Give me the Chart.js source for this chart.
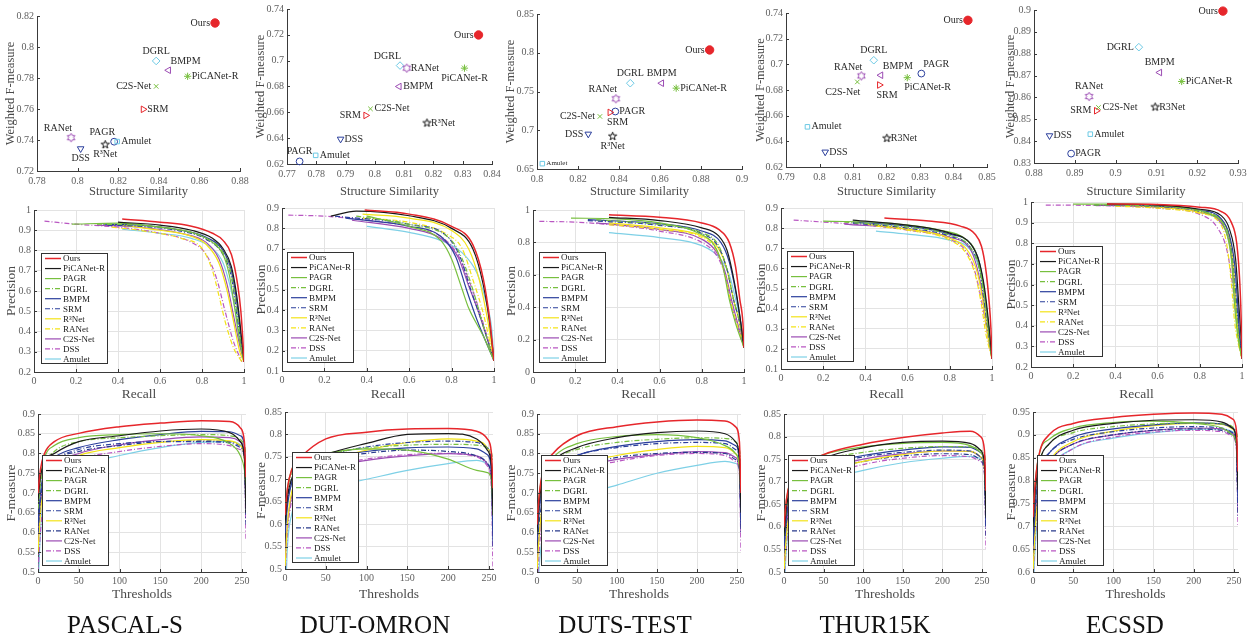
<!DOCTYPE html>
<html>
<head>
<meta charset="utf-8">
<script src="https://cdn.jsdelivr.net/npm/chart.js@4.4.0/dist/chart.umd.min.js"></script>
<style>
html, body { margin: 0; padding: 0; background: #fff; }
body { width: 1250px; height: 642px; position: relative; overflow: hidden; font-family: "Liberation Serif", serif; }
.cell { position: absolute; }
.caption { position: absolute; top: 611px; width: 250px; text-align: center; font-size: 25px; color: #111; }
</style>
</head>
<body>
<script>
// ---- data ----
const methods = ['Ours', 'PiCANet-R', 'PAGR', 'DGRL', 'BMPM', 'SRM', 'R³Net', 'RANet', 'C2S-Net', 'DSS', 'Amulet'];
const methodsPlain = ['Ours', 'PiCANet-R', 'PAGR', 'DGRL', 'BMPM', 'SRM', 'R3Net', 'RANet', 'C2S-Net', 'DSS', 'Amulet'];
const datasetNames = ['PASCAL-S', 'DUT-OMRON', 'DUTS-TEST', 'THUR15K', 'ECSSD'];

// structure similarity / weighted F-measure, in methods order
const ssPascal = [0.8677, 0.8542, 0.818, 0.8387, 0.8448, 0.8323, 0.8136, 0.7968, 0.8387, 0.8015, 0.8195];
const wfPascal = [0.8155, 0.7811, 0.7389, 0.791, 0.785, 0.7598, 0.737, 0.7415, 0.7746, 0.7344, 0.739];
const ssDutOmron = [0.8354, 0.8306, 0.7743, 0.8086, 0.8083, 0.7969, 0.8178, 0.8109, 0.7985, 0.7883, 0.7798];
const wfDutOmron = [0.7199, 0.6942, 0.622, 0.6962, 0.68, 0.6576, 0.6517, 0.6942, 0.6627, 0.6393, 0.6267];
const ssDuts = [0.8842, 0.8679, 0.8382, 0.8455, 0.8608, 0.8356, 0.8369, 0.8385, 0.8307, 0.825, 0.8026];
const wfDuts = [0.8036, 0.7543, 0.7242, 0.7607, 0.7607, 0.723, 0.6921, 0.7406, 0.7178, 0.6951, 0.6569];
const ssThur = [0.8443, 0.8262, 0.8304, 0.8162, 0.8183, 0.8179, 0.8201, 0.8125, 0.8113, 0.8017, 0.7964];
const wfThur = [0.7343, 0.6896, 0.6928, 0.7032, 0.6915, 0.6839, 0.6424, 0.691, 0.6863, 0.6317, 0.6513];
const ssEcssd = [0.9263, 0.9162, 0.8891, 0.9057, 0.9108, 0.8953, 0.9097, 0.8935, 0.8958, 0.8838, 0.8938];
const wfEcssd = [0.8995, 0.8673, 0.8343, 0.883, 0.8714, 0.8539, 0.8556, 0.8604, 0.8554, 0.8425, 0.8432];

// scatter axis ranges [xmin, xmax, xstep, ymin, ymax, ystep]
const scatterAxes = [
    [0.78, 0.88, 0.02, 0.72, 0.82, 0.02],
    [0.77, 0.84, 0.01, 0.62, 0.74, 0.02],
    [0.8, 0.9, 0.02, 0.65, 0.85, 0.05],
    [0.79, 0.85, 0.01, 0.62, 0.74, 0.02],
    [0.88, 0.93, 0.01, 0.83, 0.9, 0.01]
];

// precision-recall curves: [recall, precision] per method
const prPascal = [
    [[0.42,0.955],[0.6,0.94],[0.75,0.92],[0.85,0.885],[0.9,0.85],[0.94,0.78],[0.97,0.63],[0.985,0.5],[0.995,0.35],[1,0.25]],
    [[0.4,0.94],[0.6,0.925],[0.75,0.9],[0.85,0.86],[0.9,0.81],[0.94,0.72],[0.965,0.58],[0.98,0.45],[0.995,0.3],[1,0.25]],
    [[0.18,0.93],[0.4,0.935],[0.6,0.915],[0.75,0.89],[0.85,0.84],[0.9,0.78],[0.93,0.68],[0.955,0.52],[0.98,0.35],[1,0.25]],
    [[0.3,0.93],[0.5,0.925],[0.7,0.9],[0.82,0.86],[0.9,0.79],[0.94,0.68],[0.96,0.55],[0.98,0.4],[1,0.25]],
    [[0.33,0.93],[0.5,0.925],[0.7,0.9],[0.82,0.865],[0.9,0.8],[0.94,0.7],[0.965,0.55],[0.985,0.38],[1,0.25]],
    [[0.35,0.925],[0.5,0.92],[0.7,0.895],[0.82,0.855],[0.9,0.78],[0.94,0.67],[0.96,0.53],[0.98,0.38],[1,0.25]],
    [[0.42,0.925],[0.6,0.9],[0.75,0.87],[0.82,0.83],[0.88,0.74],[0.92,0.6],[0.95,0.45],[0.98,0.3],[1,0.25]],
    [[0.37,0.915],[0.5,0.9],[0.7,0.86],[0.8,0.81],[0.85,0.7],[0.88,0.58],[0.91,0.45],[0.95,0.32],[0.99,0.25]],
    [[0.3,0.925],[0.5,0.915],[0.7,0.885],[0.82,0.84],[0.88,0.76],[0.92,0.63],[0.95,0.48],[0.98,0.33],[1,0.25]],
    [[0.05,0.945],[0.2,0.93],[0.4,0.915],[0.6,0.885],[0.75,0.84],[0.82,0.78],[0.87,0.66],[0.91,0.5],[0.95,0.35],[0.99,0.25]],
    [[0.42,0.905],[0.6,0.885],[0.75,0.86],[0.85,0.81],[0.9,0.74],[0.93,0.64],[0.96,0.5],[0.98,0.36],[1,0.25]]
];
const prDutOmron = [
    [[0.39,0.89],[0.6,0.87],[0.8,0.81],[0.9,0.72],[0.95,0.55],[0.98,0.35],[1,0.15]],
    [[0.23,0.86],[0.35,0.885],[0.6,0.862],[0.8,0.8],[0.9,0.7],[0.95,0.52],[0.98,0.33],[1,0.15]],
    [[0.4,0.86],[0.6,0.81],[0.75,0.74],[0.8,0.65],[0.85,0.5],[0.88,0.41],[0.95,0.27],[1,0.15]],
    [[0.35,0.86],[0.6,0.82],[0.8,0.74],[0.85,0.65],[0.9,0.5],[0.95,0.32],[1,0.15]],
    [[0.3,0.85],[0.6,0.81],[0.75,0.76],[0.82,0.66],[0.87,0.5],[0.92,0.35],[1,0.15]],
    [[0.25,0.86],[0.6,0.82],[0.78,0.76],[0.84,0.66],[0.89,0.5],[0.94,0.35],[1,0.15]],
    [[0.38,0.87],[0.6,0.85],[0.8,0.79],[0.88,0.7],[0.93,0.55],[0.97,0.35],[1,0.15]],
    [[0.38,0.85],[0.6,0.83],[0.78,0.77],[0.85,0.7],[0.9,0.55],[0.95,0.38],[1,0.15]],
    [[0.33,0.84],[0.6,0.8],[0.75,0.75],[0.83,0.66],[0.88,0.52],[0.93,0.38],[1,0.15]],
    [[0.03,0.865],[0.2,0.86],[0.4,0.84],[0.6,0.81],[0.75,0.76],[0.83,0.67],[0.88,0.55],[0.93,0.4],[1,0.15]],
    [[0.4,0.81],[0.6,0.78],[0.75,0.74],[0.85,0.68],[0.92,0.58],[0.96,0.45],[0.99,0.3],[1,0.15]]
];
const prDuts = [
    [[0.36,0.97],[0.6,0.955],[0.8,0.92],[0.88,0.88],[0.93,0.8],[0.96,0.65],[0.98,0.45],[0.995,0.3],[1,0.15]],
    [[0.36,0.955],[0.6,0.935],[0.8,0.89],[0.88,0.84],[0.92,0.75],[0.955,0.55],[0.98,0.35],[1,0.15]],
    [[0.18,0.95],[0.4,0.945],[0.6,0.92],[0.78,0.86],[0.86,0.78],[0.9,0.65],[0.93,0.45],[0.96,0.3],[1,0.15]],
    [[0.3,0.94],[0.6,0.91],[0.8,0.86],[0.88,0.78],[0.92,0.63],[0.95,0.45],[0.98,0.3],[1,0.15]],
    [[0.26,0.94],[0.6,0.915],[0.8,0.87],[0.89,0.8],[0.93,0.68],[0.96,0.5],[0.985,0.3],[1,0.15]],
    [[0.26,0.935],[0.6,0.905],[0.8,0.855],[0.88,0.77],[0.92,0.63],[0.95,0.45],[0.98,0.3],[1,0.15]],
    [[0.36,0.92],[0.6,0.89],[0.8,0.84],[0.88,0.76],[0.92,0.63],[0.95,0.45],[0.98,0.3],[1,0.15]],
    [[0.36,0.91],[0.6,0.88],[0.8,0.83],[0.87,0.75],[0.91,0.6],[0.94,0.42],[0.97,0.28],[1,0.15]],
    [[0.3,0.92],[0.6,0.88],[0.8,0.82],[0.87,0.74],[0.91,0.62],[0.94,0.45],[0.97,0.3],[1,0.15]],
    [[0.03,0.93],[0.2,0.925],[0.4,0.905],[0.6,0.87],[0.8,0.8],[0.87,0.72],[0.91,0.6],[0.94,0.42],[0.97,0.28],[1,0.15]],
    [[0.36,0.86],[0.6,0.83],[0.8,0.78],[0.88,0.71],[0.93,0.6],[0.96,0.45],[0.985,0.3],[1,0.15]]
];
const prThur = [
    [[0.49,0.85],[0.7,0.835],[0.85,0.81],[0.92,0.77],[0.95,0.71],[0.97,0.6],[0.985,0.45],[0.995,0.3],[1,0.15]],
    [[0.34,0.84],[0.6,0.815],[0.8,0.775],[0.9,0.72],[0.94,0.63],[0.965,0.5],[0.985,0.32],[1,0.15]],
    [[0.2,0.835],[0.5,0.825],[0.75,0.79],[0.88,0.74],[0.93,0.66],[0.96,0.5],[0.98,0.32],[1,0.15]],
    [[0.3,0.83],[0.6,0.805],[0.8,0.765],[0.9,0.7],[0.94,0.6],[0.965,0.45],[0.985,0.3],[1,0.15]],
    [[0.34,0.83],[0.6,0.81],[0.8,0.77],[0.9,0.72],[0.94,0.63],[0.965,0.48],[0.985,0.3],[1,0.15]],
    [[0.34,0.825],[0.6,0.8],[0.8,0.76],[0.9,0.7],[0.94,0.6],[0.96,0.46],[0.98,0.3],[1,0.15]],
    [[0.4,0.82],[0.6,0.795],[0.8,0.75],[0.89,0.68],[0.93,0.58],[0.955,0.45],[0.975,0.3],[1,0.15]],
    [[0.45,0.81],[0.6,0.79],[0.8,0.74],[0.88,0.67],[0.92,0.57],[0.95,0.42],[0.97,0.28],[1,0.15]],
    [[0.3,0.82],[0.6,0.795],[0.8,0.755],[0.9,0.69],[0.93,0.6],[0.955,0.47],[0.975,0.3],[1,0.15]],
    [[0.06,0.84],[0.2,0.83],[0.4,0.815],[0.6,0.79],[0.8,0.745],[0.88,0.68],[0.92,0.58],[0.95,0.44],[0.975,0.3],[1,0.15]],
    [[0.45,0.785],[0.6,0.77],[0.8,0.74],[0.9,0.69],[0.94,0.6],[0.965,0.47],[0.985,0.3],[1,0.15]]
];
const prEcssd = [
    [[0.36,0.99],[0.6,0.988],[0.8,0.975],[0.9,0.955],[0.95,0.9],[0.975,0.8],[0.99,0.6],[0.997,0.4],[1,0.24]],
    [[0.36,0.99],[0.6,0.985],[0.8,0.965],[0.9,0.935],[0.94,0.87],[0.97,0.72],[0.985,0.5],[0.995,0.35],[1,0.24]],
    [[0.2,0.99],[0.5,0.99],[0.7,0.975],[0.85,0.94],[0.92,0.87],[0.95,0.72],[0.965,0.5],[0.98,0.35],[1,0.24]],
    [[0.3,0.985],[0.6,0.98],[0.8,0.955],[0.9,0.91],[0.94,0.82],[0.96,0.65],[0.975,0.45],[0.99,0.3],[1,0.24]],
    [[0.36,0.99],[0.6,0.98],[0.8,0.96],[0.9,0.92],[0.94,0.84],[0.965,0.7],[0.98,0.5],[0.99,0.33],[1,0.24]],
    [[0.3,0.985],[0.6,0.978],[0.8,0.955],[0.9,0.91],[0.94,0.83],[0.96,0.68],[0.975,0.5],[0.99,0.32],[1,0.24]],
    [[0.45,0.985],[0.6,0.975],[0.8,0.95],[0.9,0.91],[0.94,0.83],[0.96,0.68],[0.97,0.5],[0.985,0.33],[1,0.24]],
    [[0.4,0.98],[0.6,0.97],[0.8,0.945],[0.9,0.89],[0.93,0.78],[0.95,0.6],[0.965,0.42],[0.985,0.3],[1,0.24]],
    [[0.3,0.985],[0.6,0.975],[0.8,0.95],[0.9,0.9],[0.94,0.8],[0.96,0.64],[0.975,0.45],[0.99,0.3],[1,0.24]],
    [[0.07,0.985],[0.3,0.983],[0.6,0.97],[0.8,0.94],[0.88,0.88],[0.93,0.76],[0.955,0.6],[0.975,0.42],[0.99,0.3],[1,0.24]],
    [[0.36,0.985],[0.6,0.975],[0.8,0.95],[0.9,0.9],[0.94,0.81],[0.96,0.66],[0.975,0.48],[0.99,0.32],[1,0.24]]
];
// precision y ranges [min, max, step]
const prYAxes = [[0.2, 1, 0.1], [0.1, 0.9, 0.1], [0, 1, 0.2], [0.1, 0.9, 0.1], [0.2, 1, 0.1]];

// F-measure against threshold
const fThresholds = [0, 3, 8, 20, 50, 100, 150, 200, 235, 248, 253, 255];
const fPascal = [
    [0.70,0.76,0.80,0.83,0.851,0.868,0.877,0.883,0.881,0.865,0.83,0.74],
    [0.68,0.74,0.78,0.80,0.83,0.845,0.857,0.862,0.853,0.83,0.79,0.65],
    [0.68,0.74,0.79,0.82,0.84,0.848,0.85,0.845,0.825,0.795,0.76,0.72],
    [0.66,0.72,0.77,0.805,0.83,0.84,0.845,0.848,0.845,0.835,0.82,0.80],
    [0.62,0.70,0.76,0.79,0.815,0.835,0.848,0.856,0.855,0.845,0.82,0.68],
    [0.60,0.68,0.74,0.78,0.81,0.825,0.83,0.83,0.827,0.815,0.79,0.66],
    [0.55,0.65,0.72,0.76,0.795,0.815,0.828,0.835,0.832,0.82,0.79,0.70],
    [0.60,0.68,0.74,0.78,0.805,0.82,0.83,0.832,0.83,0.82,0.79,0.62],
    [0.58,0.67,0.73,0.77,0.80,0.822,0.835,0.842,0.84,0.83,0.80,0.70],
    [0.50,0.60,0.70,0.75,0.785,0.805,0.818,0.825,0.82,0.81,0.79,0.58],
    [0.45,0.60,0.70,0.74,0.77,0.795,0.815,0.828,0.83,0.822,0.80,0.75]
];
const fDutOmron = [
    [0.62,0.68,0.72,0.75,0.79,0.805,0.812,0.813,0.807,0.79,0.76,0.68],
    [0.60,0.66,0.70,0.73,0.755,0.78,0.80,0.802,0.79,0.765,0.73,0.62],
    [0.62,0.68,0.72,0.745,0.758,0.768,0.765,0.745,0.72,0.715,0.70,0.62],
    [0.60,0.67,0.71,0.735,0.755,0.77,0.776,0.778,0.776,0.77,0.76,0.74],
    [0.58,0.64,0.69,0.72,0.745,0.762,0.77,0.772,0.768,0.755,0.72,0.55],
    [0.60,0.66,0.70,0.73,0.752,0.772,0.782,0.785,0.782,0.77,0.74,0.62],
    [0.50,0.60,0.67,0.71,0.74,0.765,0.782,0.79,0.785,0.77,0.74,0.68],
    [0.58,0.65,0.69,0.72,0.745,0.758,0.765,0.762,0.752,0.735,0.70,0.60],
    [0.52,0.60,0.66,0.70,0.725,0.742,0.752,0.757,0.752,0.735,0.70,0.58],
    [0.48,0.58,0.65,0.69,0.725,0.745,0.755,0.758,0.75,0.73,0.68,0.50],
    [0.40,0.55,0.62,0.66,0.68,0.70,0.72,0.735,0.742,0.735,0.72,0.66]
];
const fDuts = [
    [0.62,0.70,0.76,0.80,0.845,0.868,0.88,0.885,0.882,0.868,0.83,0.70],
    [0.60,0.68,0.74,0.78,0.815,0.84,0.853,0.857,0.85,0.83,0.79,0.65],
    [0.62,0.70,0.75,0.79,0.825,0.843,0.848,0.84,0.82,0.80,0.77,0.70],
    [0.60,0.68,0.74,0.78,0.81,0.828,0.836,0.84,0.838,0.83,0.81,0.78],
    [0.58,0.66,0.72,0.76,0.795,0.818,0.83,0.835,0.832,0.82,0.79,0.62],
    [0.58,0.66,0.72,0.76,0.795,0.815,0.825,0.828,0.825,0.81,0.78,0.62],
    [0.50,0.60,0.68,0.73,0.77,0.795,0.81,0.818,0.815,0.80,0.77,0.66],
    [0.55,0.63,0.69,0.73,0.765,0.79,0.80,0.803,0.80,0.785,0.76,0.60],
    [0.52,0.60,0.67,0.72,0.76,0.785,0.797,0.805,0.802,0.79,0.76,0.60],
    [0.45,0.56,0.65,0.71,0.755,0.78,0.795,0.80,0.795,0.78,0.75,0.55],
    [0.40,0.52,0.60,0.65,0.69,0.72,0.75,0.77,0.78,0.775,0.76,0.70]
];
const fThur = [
    [0.60,0.66,0.70,0.73,0.76,0.783,0.798,0.808,0.812,0.80,0.77,0.68],
    [0.58,0.64,0.69,0.72,0.752,0.775,0.787,0.79,0.785,0.77,0.74,0.62],
    [0.60,0.66,0.70,0.73,0.76,0.777,0.785,0.787,0.78,0.765,0.74,0.66],
    [0.58,0.64,0.69,0.72,0.748,0.765,0.774,0.778,0.777,0.77,0.76,0.74],
    [0.56,0.62,0.67,0.70,0.735,0.758,0.77,0.777,0.776,0.765,0.74,0.60],
    [0.56,0.62,0.67,0.70,0.733,0.755,0.765,0.77,0.768,0.755,0.73,0.60],
    [0.50,0.58,0.64,0.68,0.72,0.745,0.76,0.768,0.767,0.755,0.73,0.64],
    [0.52,0.60,0.65,0.69,0.722,0.745,0.757,0.762,0.76,0.748,0.72,0.58],
    [0.52,0.60,0.65,0.69,0.725,0.75,0.762,0.768,0.767,0.755,0.73,0.60],
    [0.48,0.56,0.63,0.67,0.71,0.738,0.752,0.758,0.755,0.745,0.72,0.55],
    [0.45,0.55,0.62,0.66,0.70,0.725,0.742,0.752,0.756,0.752,0.74,0.68]
];
const fEcssd = [
    [0.72,0.80,0.86,0.90,0.925,0.938,0.945,0.948,0.945,0.935,0.91,0.82],
    [0.70,0.78,0.84,0.88,0.91,0.925,0.932,0.933,0.928,0.915,0.89,0.78],
    [0.72,0.80,0.86,0.89,0.915,0.927,0.93,0.925,0.915,0.90,0.88,0.82],
    [0.70,0.78,0.84,0.88,0.905,0.918,0.924,0.926,0.924,0.918,0.905,0.89],
    [0.66,0.75,0.82,0.86,0.895,0.913,0.922,0.926,0.924,0.915,0.89,0.76],
    [0.66,0.75,0.82,0.86,0.89,0.907,0.915,0.918,0.915,0.905,0.88,0.74],
    [0.60,0.70,0.78,0.84,0.885,0.908,0.92,0.925,0.923,0.913,0.89,0.80],
    [0.62,0.72,0.79,0.84,0.88,0.90,0.91,0.913,0.91,0.90,0.875,0.72],
    [0.62,0.72,0.79,0.84,0.88,0.90,0.91,0.915,0.913,0.903,0.88,0.74],
    [0.58,0.68,0.76,0.82,0.87,0.895,0.906,0.91,0.907,0.897,0.87,0.70],
    [0.55,0.66,0.75,0.82,0.87,0.893,0.905,0.912,0.913,0.907,0.89,0.82]
];
// F-measure y ranges [min, max, step]
const fYAxes = [[0.5, 0.9, 0.05], [0.5, 0.85, 0.05], [0.5, 0.9, 0.05], [0.5, 0.85, 0.05], [0.6, 0.95, 0.05]];

// ---- styles ----
const FONT = '"Liberation Serif", "Times New Roman", serif';
const RED = '#e6262b', BLACK = '#1a1a1a', GREEN = '#77bf3e', BLUE = '#2b3f9c', YELLOW = '#f3e318',
      PURPLE = '#9b4bb3', MAGENTA = '#b957c2', CYAN = '#7ed0e6', NAVY = '#283a8c';
const DD = [5, 2, 1, 2];
const dashes = [[], [], [], DD, [], DD, [], DD, [], DD, []];
const prColors = [RED, BLACK, GREEN, GREEN, BLUE, BLUE, YELLOW, YELLOW, PURPLE, MAGENTA, CYAN];
const fColors = [RED, BLACK, GREEN, GREEN, BLUE, BLUE, YELLOW, NAVY, PURPLE, MAGENTA, CYAN];

// label placement around scatter markers
const scatterLabelPos = [
    ['l', 'r', 'al', 'a', 'ar', 'r', 'b', 'al', 'l', 'b', 'r'],
    ['l', 'b', 'a', 'al', 'r', 'l', 'r', 'r', 'r', 'r', 'r'],
    ['l', 'r', 'r', 'a', 'a', 'br', 'b', 'al', 'l', 'l', 'rs'],
    ['l', 'br', 'ar', 'a', 'ar', 'br', 'r', 'al', 'bl', 'r', 'r'],
    ['l', 'r', 'r', 'l', 'a', 'l', 'r', 'a', 'r', 'r', 'r']
];

// plot areas in page pixels [left, top, right, bottom]
const scatterPlots = [[37, 16, 240, 171], [287, 9, 492, 164], [537, 14, 742, 169], [786, 13, 987, 167], [1034, 10, 1238, 163]];
const prPlots = [[34, 210, 244, 372], [282, 208, 494, 371], [533, 210, 744, 372], [781, 208, 992, 369], [1031, 202, 1242, 367]];
const fPlots = [[38, 414, 246, 572], [285, 412, 493, 569], [537, 414, 741, 572], [784, 414, 986, 572], [1033, 412, 1238, 572]];
const prLegendOffsets = [[7, 43], [5, 44], [6, 42], [6, 43], [5, 44]];
const fLegendOffsets = [[4, 41], [7, 40], [4, 41], [4, 41], [4, 43]];

function starImage(n, inner, color) {
    const s = 11;
    const c = document.createElement('canvas');
    c.width = s; c.height = s;
    const g = c.getContext('2d');
    g.strokeStyle = color; g.lineWidth = 1;
    g.beginPath();
    const R = 4.3, r = R * inner;
    for (let i = 0; i < 2 * n; i++) {
        const a = -Math.PI / 2 + i * Math.PI / n;
        const rr = i % 2 ? r : R;
        const px = s / 2 + rr * Math.cos(a), py = s / 2 + rr * Math.sin(a);
        if (i === 0) g.moveTo(px, py); else g.lineTo(px, py);
    }
    g.closePath(); g.stroke();
    return c;
}
const pentagram = starImage(5, 0.4, '#111');
const hexagram = starImage(6, 0.58, PURPLE);

const markerStyle = ['circle', 'star', 'circle', 'rectRot', 'triangle', 'triangle', pentagram, hexagram, 'crossRot', 'triangle', 'rect'];
const markerRotation = [0, 0, 0, 0, -90, 90, 0, 0, 0, 180, 0];
const markerColor = [RED, GREEN, BLUE, '#6cc9e4', PURPLE, RED, '#111', PURPLE, GREEN, BLUE, '#6cc9e4'];
const markerFill = [RED, 'rgba(0,0,0,0)', 'rgba(0,0,0,0)', 'rgba(0,0,0,0)', 'rgba(0,0,0,0)', 'rgba(0,0,0,0)',
                    'rgba(0,0,0,0)', 'rgba(0,0,0,0)', 'rgba(0,0,0,0)', 'rgba(0,0,0,0)', 'rgba(0,0,0,0)'];
const markerRadius = [4.2, 3.6, 3.4, 3.8, 3.8, 3.8, 4, 4, 3.2, 3.8, 3.2];

// ---- plugins ----
const legendBox = {
    id: 'legendBox',
    afterDatasetsDraw(chart, args, opts) {
        if (!opts.show) return;
        const ctx = chart.ctx, area = chart.chartArea;
        const x = Math.round(area.left + opts.dx), y = Math.round(area.top + opts.dy);
        const w = 66, h = 110;
        ctx.save();
        ctx.fillStyle = '#fff';
        ctx.fillRect(x, y, w, h);
        ctx.strokeStyle = '#333'; ctx.lineWidth = 1;
        ctx.strokeRect(x + 0.5, y + 0.5, w, h);
        ctx.font = '9px ' + FONT;
        ctx.textBaseline = 'middle';
        chart.data.datasets.forEach((ds, i) => {
            const cy = y + 5.5 + i * 10.05;
            ctx.strokeStyle = ds.borderColor;
            ctx.lineWidth = ds.borderWidth;
            ctx.setLineDash(ds.borderDash || []);
            ctx.beginPath(); ctx.moveTo(x + 4, cy); ctx.lineTo(x + 20, cy); ctx.stroke();
            ctx.setLineDash([]);
            ctx.fillStyle = '#222';
            ctx.fillText(ds.label, x + 22, cy + 0.5);
        });
        ctx.restore();
    }
};

const pointLabels = {
    id: 'pointLabels',
    afterDatasetsDraw(chart, args, opts) {
        if (!opts.names) return;
        const ctx = chart.ctx;
        const pts = chart.getDatasetMeta(0).data;
        ctx.save();
        ctx.fillStyle = '#2a2a2a';
        pts.forEach((p, i) => {
            let pos = opts.pos[i];
            const small = pos.endsWith('s');
            pos = pos.replace('s', '');
            ctx.font = (small ? 7 : 10) + 'px ' + FONT;
            let x = p.x, y = p.y, align = 'left', base = 'middle';
            if (pos === 'l') { x -= 5; align = 'right'; }
            else if (pos === 'r') { x += 4; }
            else if (pos === 'a') { y -= 5; align = 'center'; base = 'bottom'; }
            else if (pos === 'b') { y += 5; align = 'center'; base = 'top'; }
            else if (pos === 'al') { x += 1; y -= 4; align = 'right'; base = 'bottom'; }
            else if (pos === 'ar') { x += 2; y -= 4; base = 'bottom'; }
            else if (pos === 'bl') { x += 3; y += 5; align = 'right'; base = 'top'; }
            else if (pos === 'br') { x -= 3; y += 5; base = 'top'; }
            ctx.textAlign = align; ctx.textBaseline = base;
            ctx.fillText(opts.names[i], x, y);
        });
        ctx.restore();
    }
};

// small inward tick marks along the left and bottom axes
const innerTicks = {
    id: 'innerTicks',
    afterDraw(chart) {
        const ctx = chart.ctx, area = chart.chartArea;
        const xs = chart.scales.x, ys = chart.scales.y;
        ctx.save();
        ctx.strokeStyle = '#3a3a3a'; ctx.lineWidth = 1;
        ctx.beginPath();
        xs.ticks.forEach(t => {
            const px = Math.round(xs.getPixelForValue(t.value)) + 0.5;
            ctx.moveTo(px, area.bottom); ctx.lineTo(px, area.bottom - 3);
        });
        ys.ticks.forEach(t => {
            const py = Math.round(ys.getPixelForValue(t.value)) + 0.5;
            ctx.moveTo(area.left, py); ctx.lineTo(area.left + 3, py);
        });
        ctx.stroke();
        ctx.restore();
    }
};

Chart.register(legendBox, pointLabels, innerTicks);
Chart.defaults.font.family = FONT;

function axis(min, max, step, title, titleSize, gridOn, tickPad) {
    return {
        type: 'linear', min: min, max: max,
        ticks: {
            stepSize: step, includeBounds: false, autoSkip: false, maxRotation: 0,
            color: '#5f5f5f', font: { family: FONT, size: 10 }, padding: tickPad,
            callback: v => String(+v.toFixed(4))
        },
        grid: gridOn ? { color: '#e3e3e3', lineWidth: 1, drawTicks: false } : { display: false, drawTicks: false },
        border: { color: '#3a3a3a', width: 1 },
        title: { display: true, text: title, color: '#4a4a4a', font: { family: FONT, size: titleSize }, padding: { top: 3, bottom: 1 } }
    };
}

function makeChart(col, rowTop, rowHeight, plot, config) {
    const left = col * 250;
    const width = col < 4 ? 262 : 250;
    const div = document.createElement('div');
    div.className = 'cell';
    div.style.left = left + 'px';
    div.style.top = rowTop + 'px';
    const c = document.createElement('canvas');
    c.width = width; c.height = rowHeight;
    c.style.width = width + 'px'; c.style.height = rowHeight + 'px';
    div.appendChild(c);
    document.body.appendChild(div);
    const o = config.options;
    o.responsive = false;
    o.animation = false;
    o.events = [];
    o.devicePixelRatio = 1;
    o.layout = { padding: { top: plot[1] - rowTop, right: left + width - plot[2], left: 0, bottom: 0 } };
    o.scales.x.afterFit = s => { s.height = rowTop + rowHeight - plot[3]; s.paddingLeft = 0; s.paddingRight = 0; };
    o.scales.y.afterFit = s => { s.width = plot[0] - left; s.paddingTop = 0; s.paddingBottom = 0; };
    new Chart(c, config);
}

function curveSets(series, xs, colors) {
    return series.map((s, i) => ({
        label: methods[i],
        data: xs ? s.map((v, j) => ({ x: xs[j], y: v })) : s.map(p => ({ x: p[0], y: p[1] })),
        borderColor: colors[i],
        borderDash: dashes[i],
        borderWidth: i === 0 ? 1.5 : 1.2,
        pointRadius: 0,
        fill: false,
        cubicInterpolationMode: 'monotone'
    }));
}

// ---- row 1: scatter ----
const ssAll = [ssPascal, ssDutOmron, ssDuts, ssThur, ssEcssd];
const wfAll = [wfPascal, wfDutOmron, wfDuts, wfThur, wfEcssd];
ssAll.forEach((ss, col) => {
    const ax = scatterAxes[col];
    makeChart(col, 0, 200, scatterPlots[col], {
        type: 'scatter',
        data: {
            datasets: [{
                data: ss.map((v, i) => ({ x: v, y: wfAll[col][i] })),
                pointStyle: markerStyle,
                pointRotation: markerRotation,
                pointBorderColor: markerColor,
                pointBackgroundColor: markerFill,
                pointRadius: markerRadius,
                pointBorderWidth: 1,
                clip: false
            }]
        },
        options: {
            plugins: {
                legend: { display: false }, tooltip: { enabled: false },
                pointLabels: { names: col < 3 ? methods : methodsPlain, pos: scatterLabelPos[col] }
            },
            scales: {
                x: axis(ax[0], ax[1], ax[2], 'Structure Similarity', 12.5, false, 4),
                y: axis(ax[3], ax[4], ax[5], 'Weighted F-measure', 12.5, false, 3)
            }
        }
    });
});

// ---- row 2: precision-recall ----
[prPascal, prDutOmron, prDuts, prThur, prEcssd].forEach((series, col) => {
    const ya = prYAxes[col];
    makeChart(col, 195, 209, prPlots[col], {
        type: 'line',
        data: { datasets: curveSets(series, null, prColors) },
        options: {
            plugins: {
                legend: { display: false }, tooltip: { enabled: false },
                legendBox: { show: true, dx: prLegendOffsets[col][0], dy: prLegendOffsets[col][1] }
            },
            scales: {
                x: axis(0, 1, 0.2, 'Recall', 13.5, true, 3),
                y: axis(ya[0], ya[1], ya[2], 'Precision', 13.5, true, 3)
            }
        }
    });
});

// ---- row 3: F-measure vs threshold ----
[fPascal, fDutOmron, fDuts, fThur, fEcssd].forEach((series, col) => {
    const ya = fYAxes[col];
    makeChart(col, 400, 204, fPlots[col], {
        type: 'line',
        data: { datasets: curveSets(series, fThresholds, fColors) },
        options: {
            plugins: {
                legend: { display: false }, tooltip: { enabled: false },
                legendBox: { show: true, dx: fLegendOffsets[col][0], dy: fLegendOffsets[col][1] }
            },
            scales: {
                x: axis(0, 255, 50, 'Thresholds', 13.5, true, 3),
                y: axis(ya[0], ya[1], ya[2], 'F-measure', 13.5, true, 3)
            }
        }
    });
});

// captions
datasetNames.forEach((name, col) => {
    const d = document.createElement('div');
    d.className = 'caption';
    d.style.left = (col * 250) + 'px';
    d.textContent = name;
    document.body.appendChild(d);
});
</script>
</body>
</html>
